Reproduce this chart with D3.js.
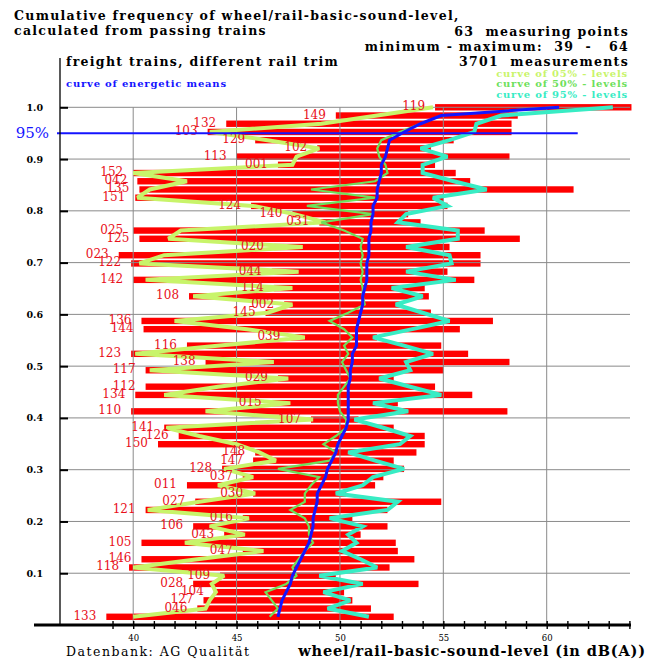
<!DOCTYPE html>
<html>
<head>
<meta charset="utf-8">
<script src="https://cdn.jsdelivr.net/npm/d3@7"></script>
<style>
  html, body { margin: 0; padding: 0; background: #fff; }
  svg text { font-family: "DejaVu Serif", serif; white-space: pre; }
</style>
</head>
<body>
<svg id="chart" width="654" height="660"></svg>
<script>
// ── Data: one entry per measuring point, ordered from top (1.0) down ──
const POINT_LABELS = [
  "119","149","132","103","129","102","113","001","152","042",
  "135","151","124","140","031","025","125","020","023","122",
  "044","142","114","108","002","145","136","144","039","116",
  "123","138","117","029","112","134","015","110","107","141",
  "126","150","148","147","128","037","011","030","027","121",
  "016","106","043","105","047","146","118","109","028","104",
  "127","046","133"
];

// minimum / maximum level per measuring point, dB(A)
const MIN_LEVEL = [
  54.6,49.8,44.5,43.6,45.9,48.9,45.0,47.0,40.0,40.2,
  40.3,40.1,45.7,47.7,49.0,40.0,40.3,46.8,39.3,39.9,
  46.7,40.0,46.8,42.7,47.3,46.4,40.4,40.5,47.6,42.6,
  39.9,43.5,40.6,47.0,40.6,40.1,46.7,39.9,48.6,41.5,
  42.2,41.2,45.9,45.8,44.3,45.3,42.6,45.8,43.0,40.6,
  45.3,42.9,44.4,40.4,45.3,40.4,39.8,44.2,42.9,43.9,
  43.4,43.1,38.7
];
const MAX_LEVEL = [
  64.1,58.6,58.3,58.3,55.5,54.4,58.2,54.6,55.6,56.3,
  61.3,55.0,55.2,53.3,53.9,57.0,58.7,55.3,56.8,56.8,
  55.2,56.5,54.1,54.3,52.9,54.4,57.4,55.8,51.8,54.9,
  56.2,58.2,55.0,52.6,54.6,56.4,52.8,58.1,50.9,52.6,
  54.1,54.1,53.7,52.6,53.1,52.1,51.7,50.3,54.9,52.3,
  50.6,52.3,51.0,52.7,52.8,53.6,52.4,49.8,53.8,50.2,
  50.6,51.5,52.6
];

// curve of 05% levels
const LEVEL_05 = [
  54.5,51.8,49.1,43.7,46.5,49.0,47.9,47.7,40.0,42.6,
  40.8,40.2,45.8,47.8,49.3,42.3,41.7,48.2,41.5,40.3,
  48.0,40.6,47.7,42.9,47.7,46.5,42.0,45.5,48.3,44.2,
  40.1,46.8,40.8,47.5,44.1,41.5,47.6,43.5,48.7,41.6,
  43.2,45.0,46.1,46.9,44.4,45.8,44.1,45.9,43.2,40.7,
  45.6,43.7,45.4,42.5,46.3,43.1,40.0,44.4,43.8,44.0,
  43.7,43.5,40.0
];
// curve of 50% levels
const LEVEL_50 = [
  60.4,54.9,53.9,52.9,52.0,51.8,51.9,52.2,52.3,51.7,
  48.6,51.7,48.4,51.6,49.1,50.2,51.1,51.0,51.1,51.0,
  51.1,51.0,51.1,51.1,51.2,50.4,49.5,50.2,50.6,50.2,
  50.4,50.1,50.3,50.5,50.2,49.9,49.9,50.0,50.3,50.3,
  49.8,49.2,49.8,49.5,47.0,49.0,48.6,48.3,48.3,47.6,
  48.3,48.5,48.5,48.7,48.3,48.0,47.7,47.9,47.4,46.4,
  46.7,47.0,46.6
];
// curve of 95% levels
const LEVEL_95 = [
  63.2,57.8,56.6,56.5,55.3,53.9,55.2,54.0,54.0,55.5,
  57.1,54.5,55.2,53.2,52.8,55.7,55.7,53.2,55.3,55.4,
  53.2,55.6,52.5,54.0,52.7,54.0,55.3,53.5,51.6,53.1,
  54.5,53.2,53.4,51.9,53.4,54.9,51.6,53.3,50.7,52.1,
  53.4,52.9,50.4,51.7,53.1,51.6,51.1,49.8,52.8,52.3,
  49.5,51.1,50.4,50.8,50.1,51.0,51.8,49.0,51.1,49.2,
  50.5,49.4,51.4
];
// curve of energetic means
const ENERGETIC_MEAN = [
  60.6,54.9,53.9,53.1,52.4,52.3,52.2,52.0,52.0,51.9,
  51.8,51.8,51.6,51.6,51.5,51.5,51.4,51.4,51.4,51.3,
  51.3,51.3,51.2,51.1,51.1,51.0,50.9,50.8,50.8,50.8,
  50.6,50.6,50.5,50.5,50.4,50.4,50.4,50.4,50.4,50.3,
  50.1,49.9,49.8,49.6,49.4,49.3,49.1,48.9,48.9,48.8,
  48.7,48.7,48.6,48.5,48.3,48.1,47.9,47.7,47.6,47.4,
  47.2,47.1,47.0
];

const Y_TICKS       = [0.1,0.2,0.3,0.4,0.5,0.6,0.7,0.8,0.9,1.0];
const X_GRID        = [40,45,50,55,60];
const X_MINOR       = d3.range(39, 65);
const LINE_95_END   = 61.5;     // dB where the 95% marker line stops
const N_POINTS      = POINT_LABELS.length;

// ── Colours ──────────────────────────────────────────────────
const C = {
  bar:   "#ff0000",
  p05:   "#c8f46a",
  p50:   "#6ee05a",
  p95:   "#38ecc4",
  mean:  "#1414ff",
  grid:  "#8a8a8a"
};

// ── Layout ───────────────────────────────────────────────────
const AXIS_X   = 60;
const AXIS_Y   = 625;
const RIGHT_X  = 630;
const BAR_H    = 6.4;

const x = d3.scaleLinear().domain([40, 60]).range([133.2, 546.7]);
const y = d3.scaleLinear().domain([0, 1]).range([AXIS_Y, 107.3]);

const rows = POINT_LABELS.map((lab, i) => ({
  label: lab,
  p:     (N_POINTS - i) / N_POINTS,
  min:   MIN_LEVEL[i],
  max:   MAX_LEVEL[i],
  p05:   LEVEL_05[i],
  p50:   LEVEL_50[i],
  p95:   LEVEL_95[i],
  mean:  ENERGETIC_MEAN[i]
}));

const svg = d3.select("#chart");

// ── Header texts ─────────────────────────────────────────────
function txt(t, px, py, opt) {
  const o = Object.assign({ size: 12.5, weight: "bold", fill: "#000", anchor: "start", ls: 1.3 }, opt);
  svg.append("text")
    .attr("x", px).attr("y", py)
    .attr("font-size", o.size).attr("font-weight", o.weight)
    .attr("letter-spacing", o.ls)
    .attr("fill", o.fill).attr("text-anchor", o.anchor)
    .text(t);
}
txt("Cumulative frequency of wheel/rail-basic-sound-level,", 14, 20);
txt("calculated from passing trains", 14, 35);
txt("63  measuring points", 629, 36, { anchor: "end" });
txt("minimum - maximum:  39  -   64", 629, 51, { anchor: "end" });
txt("freight trains, different rail trim", 66, 66);
txt("3701  measurements", 629, 66, { anchor: "end" });
txt("curve of 05% - levels", 628, 76.5, { size: 10, fill: C.p05, anchor: "end", ls: 0.8 });
txt("curve of energetic means", 66, 87, { size: 10, fill: C.mean, ls: 0.8 });
txt("curve of 50% - levels", 628, 87, { size: 10, fill: C.p50, anchor: "end", ls: 0.8 });
txt("curve of 95% - levels", 628, 97.5, { size: 10, fill: C.p95, anchor: "end", ls: 0.8 });

// ── Bars ─────────────────────────────────────────────────────
svg.append("g").selectAll("rect")
  .data(rows).join("rect")
  .attr("x", d => x(d.min))
  .attr("y", d => y(d.p) - BAR_H / 2)
  .attr("width", d => x(d.max) - x(d.min))
  .attr("height", BAR_H)
  .attr("fill", C.bar);

// ── Grid ─────────────────────────────────────────────────────
const grid = svg.append("g").attr("stroke", C.grid).attr("stroke-width", 1);
grid.selectAll(".hg").data(Y_TICKS).join("line")
  .attr("x1", AXIS_X).attr("x2", RIGHT_X)
  .attr("y1", d => y(d)).attr("y2", d => y(d));
grid.selectAll(".vg").data(X_GRID).join("line")
  .attr("x1", d => x(d)).attr("x2", d => x(d))
  .attr("y1", y(1)).attr("y2", AXIS_Y);

// ── Curves ───────────────────────────────────────────────────
function curve(key, color, width) {
  const line = d3.line().x(d => x(d[key])).y(d => y(d.p));
  svg.append("path")
    .datum(rows)
    .attr("d", line)
    .attr("fill", "none")
    .attr("stroke", color)
    .attr("stroke-width", width)
    .attr("stroke-linejoin", "miter")
    .attr("stroke-miterlimit", 3);
}
curve("p05", C.p05, 4);
curve("p50", C.p50, 2.2);
curve("mean", C.mean, 3);
curve("p95", C.p95, 4);

// ── Point labels ─────────────────────────────────────────────
svg.append("g").selectAll("text")
  .data(rows).join("text")
  .attr("x", d => x(d.min) - 10)
  .attr("y", d => y(d.p) + 3)
  .attr("text-anchor", "end")
  .attr("font-size", 12)
  .attr("fill", "#e8101a")
  .text(d => d.label);

// ── 95% marker line ──────────────────────────────────────────
svg.append("line")
  .attr("x1", AXIS_X - 3).attr("x2", x(LINE_95_END))
  .attr("y1", y(0.95)).attr("y2", y(0.95))
  .attr("stroke", C.mean).attr("stroke-width", 2);
txt("95%", 49, y(0.95) + 5, { size: 15, weight: "normal", fill: C.mean, anchor: "end", ls: 0 });

// ── Y axis ───────────────────────────────────────────────────
svg.append("line")
  .attr("x1", AXIS_X).attr("x2", AXIS_X)
  .attr("y1", 58).attr("y2", AXIS_Y)
  .attr("stroke", "#000").attr("stroke-width", 1.3);

const yAxisG = svg.append("g")
  .attr("transform", `translate(${AXIS_X},0)`)
  .call(d3.axisLeft(y).tickValues(Y_TICKS).tickFormat(d3.format(".1f")).tickSize(8).tickPadding(9));
yAxisG.select(".domain").remove();
yAxisG.selectAll(".tick line").attr("x2", 8).attr("stroke-width", 2);
yAxisG.selectAll(".tick text")
  .attr("font-family", "DejaVu Serif").attr("font-size", 9.5).attr("font-weight", "bold");

// ── X axis ───────────────────────────────────────────────────
svg.append("line")
  .attr("x1", 34).attr("x2", RIGHT_X + 1)
  .attr("y1", AXIS_Y).attr("y2", AXIS_Y)
  .attr("stroke", "#000").attr("stroke-width", 3.2);

const xAxisG = svg.append("g")
  .attr("transform", `translate(0,${AXIS_Y})`)
  .call(d3.axisBottom(x).tickValues(X_MINOR)
    .tickFormat(d => X_GRID.includes(d) ? d : "")
    .tickSize(4).tickPadding(6));
xAxisG.select(".domain").remove();
xAxisG.selectAll(".tick line").attr("y1", -4).attr("stroke-width", 1.4);
xAxisG.selectAll(".tick text")
  .attr("font-family", "DejaVu Serif").attr("font-size", 8.5);

// ── Footer ───────────────────────────────────────────────────
txt("Datenbank: AG Qualität", 66, 656, { size: 12.5, weight: "normal", ls: 1.5 });
txt("wheel/rail-basic-sound-level (in dB(A))", 646, 656, { size: 14.5, ls: 0.85, anchor: "end" });
</script>
</body>
</html>
